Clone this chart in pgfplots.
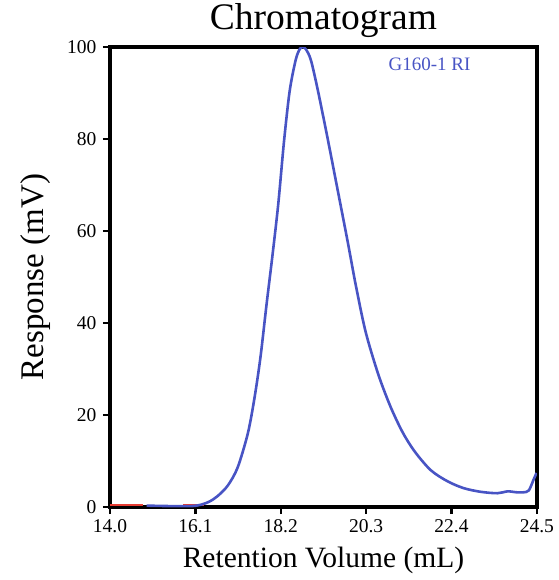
\documentclass[border=0pt]{standalone}
\usepackage{fontspec}
\setmainfont{Liberation Serif}
\usepackage{pgfplots}
\pgfplotsset{compat=1.18}
\definecolor{riblue}{RGB}{72,84,196}
\definecolor{rired}{RGB}{230,60,50}
\begin{document}
\begin{tikzpicture}
\path (-110pt,-73pt) rectangle (449pt,507pt);
\begin{axis}[
    scale only axis,
    at={(0pt,0pt)}, anchor=south west,
    width=427pt, height=460pt,
    xmin=14.0, xmax=24.5,
    ymin=0, ymax=100,
    xtick={14.0,16.1,18.2,20.3,22.4,24.5},
    xticklabels={14.0,16.1,18.2,20.3,22.4,24.5},
    ytick={0,20,40,60,80,100},
    tick align=outside,
    xtick pos=bottom, ytick pos=left,
    major tick length=7pt,
    every tick/.style={black, line width=2.5pt},
    axis line style={line width=4pt},
    /pgf/number format/assume math mode=true,
    tick label style={font=\fontsize{19.5}{22}\selectfont},
    xticklabel style={yshift=-2pt},
    yticklabel style={xshift=-3pt},
    xlabel={Retention Volume (mL)},
    ylabel={Response (mV)},
    xlabel style={font=\fontsize{29.5}{34}\selectfont,
        at={(axis description cs:0.5,-0.115)}, anchor=center},
    ylabel style={font=\fontsize{33}{38}\selectfont,
        at={(axis description cs:-0.175,0.5)}, anchor=center},
    title={Chromatogram},
    title style={font=\fontsize{37.5}{42}\selectfont,
        at={(axis description cs:0.5,1.045)}, anchor=center},
    clip=true,
]
\addplot[rired, line width=2.5pt] coordinates {
    (14.0,0.4) (14.8,0.4)
};
\addplot[rired, line width=2.5pt] coordinates {
    (15.8,0.4) (16.3,0.4)
};
\addplot[black, line width=2pt] coordinates {
    (14.8,0.3) (15.8,0.3)
};
\addplot[riblue, line width=2.6pt, smooth, tension=0.5] coordinates {
    (14.9,0.3) (15.5,0.2) (16.0,0.2)
    (16.24,0.5) (16.45,1.2) (16.65,2.4) (16.9,4.7) (17.14,8.6)
    (17.39,16) (17.55,23.5) (17.7,32.5) (17.85,44) (18.0,55)
    (18.14,66) (18.28,79.5) (18.42,90.5) (18.57,97.3) (18.67,99.6) (18.74,100)
    (18.82,99.5) (18.94,97.2) (19.11,90.7) (19.36,79.8) (19.60,68.9)
    (19.85,57.5) (20.05,48) (20.29,38) (20.60,28.8) (20.90,21.8)
    (21.2,16.2) (21.5,12) (21.89,8) (22.3,5.6) (22.7,4.1)
    (23.12,3.3) (23.53,3.0) (23.78,3.4) (24.0,3.2) (24.17,3.2)
    (24.3,3.6) (24.42,6.0) (24.49,7.4)
};
\node[riblue, font=\fontsize{19}{22}\selectfont] at (axis cs:21.86,96.3) {G160-1 RI};
\end{axis}
\end{tikzpicture}
\end{document}
